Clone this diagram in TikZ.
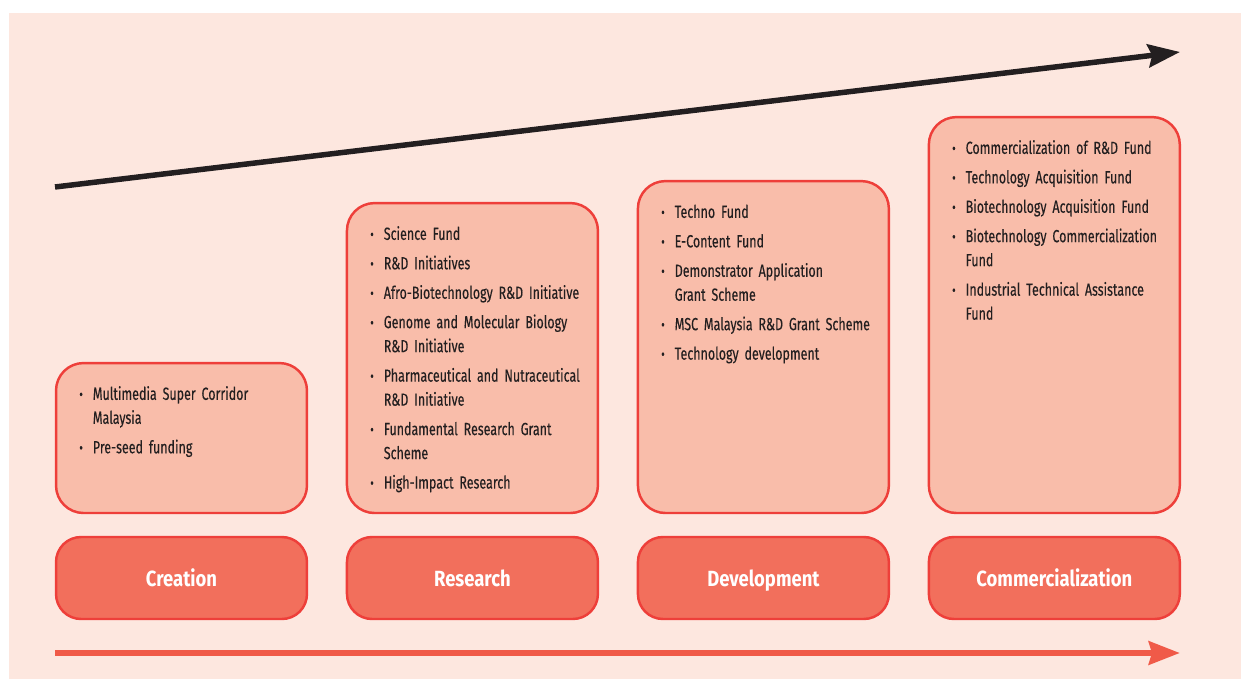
\documentclass[tikz,border=0pt]{standalone}
\usepackage{fontspec}
\usepackage{tikz}
\usetikzlibrary{arrows.meta, positioning}
\newfontfamily\condfont[FakeStretch=0.71, WordSpace=0.45, FakeBold=0.25]{Fira Sans}
\newfontfamily\stagefont[FakeStretch=0.84]{Fira Sans}
\definecolor{bgpink}{HTML}{FDE7DF}
\definecolor{boxfill}{HTML}{F9BDAA}
\definecolor{edge}{HTML}{EE3F3A}
\definecolor{stagefill}{HTML}{F26F5C}
\definecolor{flowred}{HTML}{F05A48}
\definecolor{ink}{HTML}{231F20}
\newcommand{\fund}[1]{\par\hangindent=0.27cm\hangafter=1\noindent\makebox[0.27cm][l]{\raisebox{0.2pt}{\fontsize{8.5}{8.5}\selectfont\textbullet}}#1\par}

\begin{document}
\begin{tikzpicture}[x=0.02cm, y=-0.02cm,
        stage/.style={draw=edge, fill=stagefill, line width=1.4pt, outer sep=0pt, rounded corners=0.5cm, minimum width=5.02cm, minimum height=1.64cm, text height=11pt, text depth=0.8pt, text=white, font=\stagefont\bfseries\fontsize{12.5}{15}\selectfont},
        fundbox/.style={draw=edge, fill=boxfill, line width=1.4pt, outer sep=0pt, rounded corners=0.55cm, minimum width=5.02cm},
        fundlist/.style={anchor=north west, inner sep=0pt, xshift=0.46cm, yshift=-0.14cm, text width=4.6cm, align=left, text=ink, font=\condfont\fontsize{10}{13.66}\selectfont\setlength{\parskip}{3.1pt}},
        trend/.style={line width=0.11cm, draw=ink, -{Stealth[length=0.64cm, width=0.46cm, inset=0.08cm]}},
        flow/.style={line width=0.13cm, draw=flowred, -{Stealth[length=0.62cm, width=0.46cm, inset=0.06cm]}}
    ]
        \useasboundingbox (0,0) rectangle (1241,679);
        \fill[bgpink] (9,13) rectangle (1241,679);

        % stages
        \node[stage] (creation) at (181.5,578) {Creation};
        \node[stage, right=0.8cm of creation] (research) {Research};
        \node[stage, right=0.8cm of research] (development) {Development};
        \node[stage, right=0.8cm of development] (commercialization) {Commercialization};

        % funding boxes
        \node[fundbox, minimum height=3cm, above=0.48cm of creation] (creationfunds) {};
        \node[fundbox, minimum height=6.2cm, above=0.48cm of research] (researchfunds) {};
        \node[fundbox, minimum height=6.64cm, above=0.48cm of development] (developmentfunds) {};
        \node[fundbox, minimum height=7.92cm, above=0.48cm of commercialization] (commercializationfunds) {};

        \node[fundlist] at (creationfunds.north west) {
            \fund{Multimedia Super Corridor\newline Malaysia}
            \fund{Pre-seed funding}};
        \node[fundlist] at (researchfunds.north west) {
            \fund{Science Fund}
            \fund{R\&D Initiatives}
            \fund{Afro-Biotechnology R\&D Initiative}
            \fund{Genome and Molecular Biology\newline R\&D Initiative}
            \fund{Pharmaceutical and Nutraceutical\newline R\&D Initiative}
            \fund{Fundamental Research Grant\newline Scheme}
            \fund{High-Impact Research}};
        \node[fundlist] at (developmentfunds.north west) {
            \fund{Techno Fund}
            \fund{E-Content Fund}
            \fund{Demonstrator Application\newline Grant Scheme}
            \fund{MSC Malaysia R\&D Grant Scheme}
            \fund{Technology development}};
        \node[fundlist] at (commercializationfunds.north west) {
            \fund{Commercialization of R\&D Fund}
            \fund{Technology Acquisition Fund}
            \fund{Biotechnology Acquisition Fund}
            \fund{Biotechnology Commercialization\newline Fund}
            \fund{Industrial Technical Assistance\newline Fund}};

        % arrows
        \coordinate (trendstart) at (55,187);
        \coordinate (trendend) at (1180,52);
        \draw[trend] (trendstart) -- (trendend);
        \coordinate (flowstart) at (55,653);
        \coordinate (flowend) at (1180,653);
        \draw[flow] (flowstart) -- (flowend);
    \end{tikzpicture}
\end{document}
